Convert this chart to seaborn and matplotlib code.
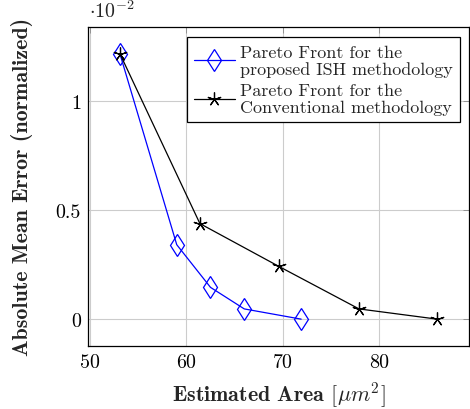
import matplotlib
matplotlib.use("Agg")
import matplotlib.pyplot as plt
import seaborn as sns
import pandas as pd
from matplotlib.ticker import FuncFormatter, FixedLocator

# Data (y in absolute units; displayed scaled by 1e-2)
ish_area = [53.1, 59.0, 62.5, 66.0, 71.9]
ish_err = [1.22e-2, 0.342e-2, 0.146e-2, 0.047e-2, 0.0]
conv_area = [53.1, 61.4, 69.6, 77.9, 86.0]
conv_err = [1.22e-2, 0.439e-2, 0.242e-2, 0.047e-2, 0.0]

label_ish = "Pareto Front for the\nproposed ISH methodology"
label_conv = "Pareto Front for the\nConventional methodology"
xticks = [50, 60, 70, 80]
yticks = [0.0, 0.5e-2, 1.0e-2]

sns.set_theme(style="whitegrid")
plt.rcParams["font.family"] = ["cmr10"]
plt.rcParams["mathtext.fontset"] = "cm"
plt.rcParams["axes.unicode_minus"] = False
plt.rcParams["axes.formatter.use_mathtext"] = True

FS = 14.4
FS_LAB = 15.8
FS_LEG = 13.0

fig = plt.figure(figsize=(4.7, 4.1), dpi=100)
ax = fig.add_axes([88 / 470, 63.3 / 410, (469 - 88) / 470, (382 - 63.3) / 410])

df_ish = pd.DataFrame({"area": ish_area, "err": ish_err})
df_conv = pd.DataFrame({"area": conv_area, "err": conv_err})

sns.lineplot(data=df_ish, x="area", y="err", ax=ax, sort=False, color="#0000ff",
             marker="d", markersize=11.5, markerfacecolor="none",
             markeredgecolor="#0000ff", markeredgewidth=0.9, linewidth=0.9,
             label=label_ish)
sns.lineplot(data=df_conv, x="area", y="err", ax=ax, sort=False, color="black",
             marker=(5, 2, 0), markersize=10, markeredgecolor="black",
             markeredgewidth=0.9, linewidth=0.9, label=label_conv)

ax.set_xlim(49.8, 89.3)
ax.set_ylim(-0.122e-2, 1.342e-2)
ax.xaxis.set_major_locator(FixedLocator(xticks))
ax.yaxis.set_major_locator(FixedLocator(yticks))
ax.yaxis.set_major_formatter(FuncFormatter(lambda v, p: f"{v / 1e-2:g}"))
ax.xaxis.set_major_formatter(FuncFormatter(lambda v, p: f"{v:g}"))

ax.grid(True, color="#cccccc", linewidth=0.8)
for s in ax.spines.values():
    s.set_color("black")
    s.set_linewidth(0.9)
ax.set_facecolor("white")
ax.tick_params(axis="both", which="major", direction="in", length=4, width=0.6,
               color="#888888", labelsize=FS, labelcolor="black", pad=5,
               top=True, right=True)

ax.set_xlabel(r"Estimated Area $[\mu m^2]$", fontsize=FS_LAB, fontfamily="cmb10", labelpad=6)
ax.set_ylabel("Absolute Mean Error (normalized)", fontsize=FS_LAB, fontfamily="cmb10", labelpad=16)

ax.text(0.002, 1.02, r"$\cdot 10^{-2}$", transform=ax.transAxes, fontsize=FS,
        ha="left", va="bottom")

leg = ax.legend(loc="upper right", bbox_to_anchor=(1 - 9 / 381, 1 - 10 / 318.7), fontsize=FS_LEG,
                frameon=True, fancybox=False, edgecolor="black", framealpha=1,
                handlelength=2.25, borderpad=0.4, labelspacing=0.3,
                handletextpad=0.3, borderaxespad=0.0)
leg.get_frame().set_linewidth(0.9)
for t in leg.get_texts():
    t.set_linespacing(1.12)

fig.savefig("out.png", dpi=100)
